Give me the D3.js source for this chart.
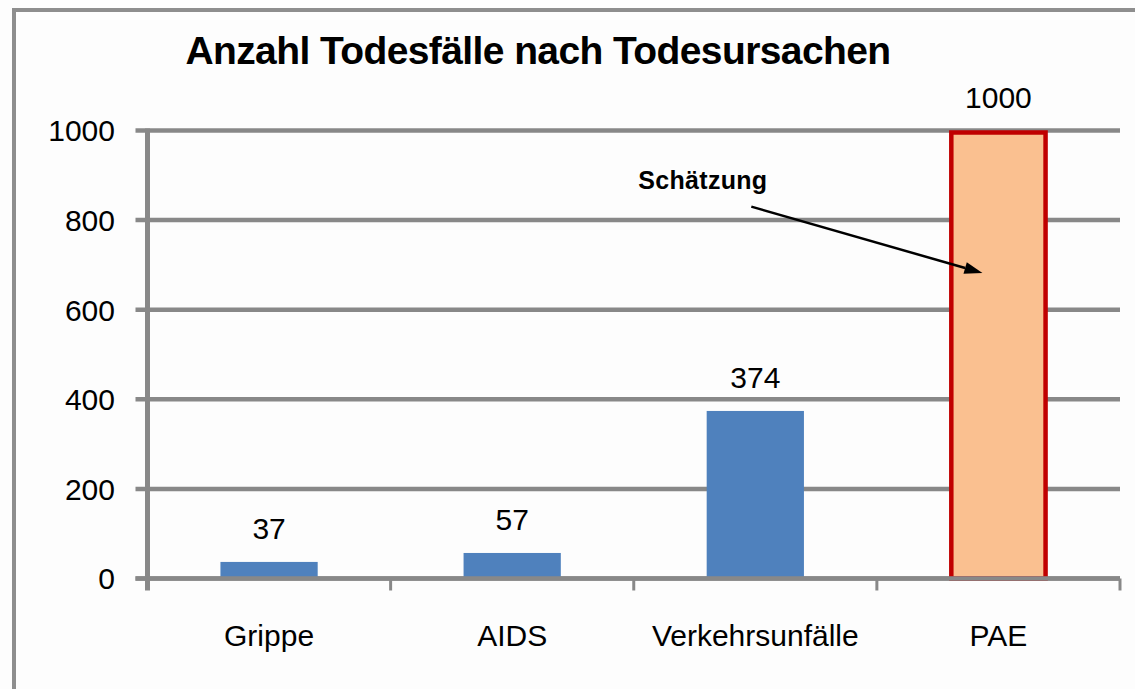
<!DOCTYPE html>
<html>
<head>
<meta charset="utf-8">
<script src="https://cdn.jsdelivr.net/npm/d3@7"></script>
<style>
  html, body { margin: 0; padding: 0; background: #fdfdfd; }
  svg { display: block; font-family: "Liberation Sans", Arial, sans-serif; }
</style>
</head>
<body>
<svg id="chart" width="1135" height="689"></svg>
<script>
// data
var categories = ["Grippe", "AIDS", "Verkehrsunfälle", "PAE"];
var values = [37, 57, 374, 1000];
var estimated = [false, false, false, true];
var yTicks = [0, 200, 400, 600, 800, 1000];
var titleText = "Anzahl Todesfälle nach Todesursachen";
var noteText = "Schätzung";

var svg = d3.select("#chart");
var margin = { top: 130.5, right: 15, bottom: 110.5, left: 147.5 };
var W = 1135, H = 689;

var x = d3.scaleBand()
    .domain(categories)
    .range([margin.left, W - margin.right])
    .paddingInner(0.6)
    .paddingOuter(0.3);

var y = d3.scaleLinear()
    .domain([0, 1000])
    .range([H - margin.bottom, margin.top]);

var gray = "#888888";

// outer frame (only top and left visible)
svg.append("line").attr("x1", 14).attr("x2", W).attr("y1", 10).attr("y2", 10)
    .attr("stroke", "#8e8e8e").attr("stroke-width", 4);
svg.append("line").attr("x1", 14).attr("x2", 14).attr("y1", 8).attr("y2", H)
    .attr("stroke", "#8e8e8e").attr("stroke-width", 4);

// title
svg.append("text")
    .attr("x", 538).attr("y", 64)
    .attr("text-anchor", "middle")
    .attr("font-size", 39).attr("font-weight", "bold")
    .attr("letter-spacing", -0.6)
    .text(titleText);

// gridlines + y ticks
var yAxis = svg.append("g").attr("class", "y-axis");
yAxis.selectAll("line.grid")
    .data(yTicks)
    .enter().append("line")
    .attr("class", "grid")
    .attr("x1", margin.left - 12)
    .attr("x2", W - margin.right)
    .attr("y1", d => y(d)).attr("y2", d => y(d))
    .attr("stroke", gray).attr("stroke-width", 4.5);

yAxis.selectAll("text")
    .data(yTicks)
    .enter().append("text")
    .attr("x", 115)
    .attr("y", d => y(d))
    .attr("dy", "0.36em")
    .attr("text-anchor", "end")
    .attr("font-size", 30)
    .text(d => d);

// y axis line
svg.append("line")
    .attr("x1", margin.left).attr("x2", margin.left)
    .attr("y1", y(1000) - 2).attr("y2", y(0) + 12)
    .attr("stroke", gray).attr("stroke-width", 5);

// x axis ticks at category boundaries
var step = x.step();
var bounds = categories.map((c, i) => x(c) - step * x.paddingInner() / 2);
bounds.push(W - margin.right);
svg.selectAll("line.xtick")
    .data(bounds.slice(1))
    .enter().append("line")
    .attr("class", "xtick")
    .attr("x1", d => d).attr("x2", d => d)
    .attr("y1", y(0)).attr("y2", y(0) + 12)
    .attr("stroke", gray).attr("stroke-width", 3);

// bars
svg.selectAll("rect.bar")
    .data(categories)
    .enter().append("rect")
    .attr("class", "bar")
    .attr("x", (d, i) => estimated[i] ? x(d) + 1.5 : x(d))
    .attr("width", (d, i) => estimated[i] ? x.bandwidth() - 3 : x.bandwidth())
    .attr("y", (d, i) => y(values[i]) + (estimated[i] ? 2 : 0))
    .attr("height", (d, i) => y(0) - y(values[i]) - (estimated[i] ? 2 : 0))
    .attr("fill", (d, i) => estimated[i] ? "#FAC090" : "#4F81BD")
    .attr("stroke", (d, i) => estimated[i] ? "#C00000" : "none")
    .attr("stroke-width", 4.5);

// redraw x axis line over bar bottoms
svg.append("line")
    .attr("x1", margin.left - 12).attr("x2", W - margin.right)
    .attr("y1", y(0)).attr("y2", y(0))
    .attr("stroke", gray).attr("stroke-width", 4.5);

// value labels
svg.selectAll("text.val")
    .data(categories)
    .enter().append("text")
    .attr("class", "val")
    .attr("x", d => x(d) + x.bandwidth() / 2)
    .attr("y", (d, i) => y(values[i]) - 23)
    .attr("text-anchor", "middle")
    .attr("font-size", 30)
    .text((d, i) => values[i]);

// category labels
svg.selectAll("text.cat")
    .data(categories)
    .enter().append("text")
    .attr("class", "cat")
    .attr("x", d => x(d) + x.bandwidth() / 2)
    .attr("y", 646)
    .attr("text-anchor", "middle")
    .attr("font-size", 30)
    .text(d => d);

// annotation "Schätzung" with arrow
svg.append("text")
    .attr("x", x("Verkehrsunfälle") + x.bandwidth() / 2 - 117)
    .attr("y", y(870))
    .attr("font-size", 25).attr("font-weight", "bold")
    .attr("letter-spacing", 0.3)
    .text(noteText);

var a0 = [x("Verkehrsunfälle") + x.bandwidth() / 2 - 4, y(830)];
var a1 = [x("PAE") + x.bandwidth() / 2 - 16, y(682)];
var ang = Math.atan2(a1[1] - a0[1], a1[0] - a0[0]);
var hl = 18, hw = 6;
var base = [a1[0] - hl * Math.cos(ang), a1[1] - hl * Math.sin(ang)];
svg.append("line")
    .attr("x1", a0[0]).attr("y1", a0[1])
    .attr("x2", base[0]).attr("y2", base[1])
    .attr("stroke", "#000").attr("stroke-width", 2.5);
svg.append("path")
    .attr("d", d3.line()([
        a1,
        [base[0] + hw * Math.sin(ang), base[1] - hw * Math.cos(ang)],
        [base[0] - hw * Math.sin(ang), base[1] + hw * Math.cos(ang)]
    ]) + "Z")
    .attr("fill", "#000");
</script>
</body>
</html>
